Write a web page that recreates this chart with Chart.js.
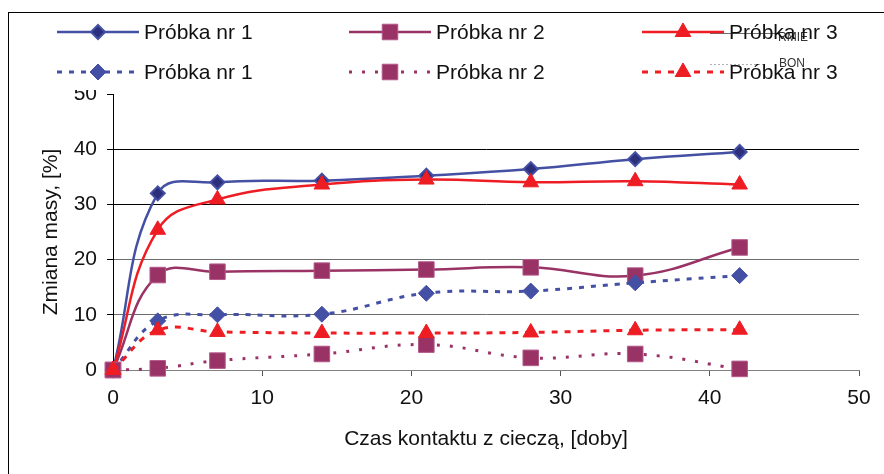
<!DOCTYPE html>
<html>
<head>
<meta charset="utf-8">
<script src="https://cdn.jsdelivr.net/npm/chart.js"></script>
<style>
  html, body { margin: 0; padding: 0; background: #fff; }
  #wrap { width: 884px; height: 474px; }
</style>
</head>
<body>
<div id="wrap"><canvas id="chart" width="884" height="474"></canvas></div>
<script>
// dni kontaktu z ciecza
const days = [0, 3, 7, 14, 21, 28, 35, 42];
const seriesNames = ["Próbka nr 1", "Próbka nr 2", "Próbka nr 3"];

// linie ciagle
const solid1 = [0, 32.0, 34.0, 34.3, 35.2, 36.4, 38.2, 39.5];
const solid2 = [0, 17.2, 17.8, 18.0, 18.2, 18.6, 17.1, 22.2];
const solid3 = [0, 25.4, 30.9, 33.6, 34.5, 34.0, 34.2, 33.6];
// linie kropkowane
const dotted1 = [0, 8.9, 10.0, 10.1, 13.9, 14.3, 15.8, 17.1];
const dotted2 = [0, 0.3, 1.7, 2.9, 4.6, 2.2, 2.9, 0.2];
const dotted3 = [0, 7.2, 6.9, 6.7, 6.7, 6.8, 7.2, 7.3];

const xTicks = [0, 10, 20, 30, 40, 50];
const yTicks = [0, 10, 20, 30, 40, 50];

const BLUE = "#4450a3";
const PURPLE = "#993366";
const RED = "#ee1d24";
const FONT = '"Liberation Sans", Arial, sans-serif';

function pts(values) {
  return days.map((d, i) => ({ x: d, y: values[i] }));
}

const datasets = [
  { label: seriesNames[0], data: pts(solid1), borderColor: BLUE, borderWidth: 2.5, borderDash: [],
    pointStyle: "rectRot", pointRadius: 7, pointBackgroundColor: "#2b2f7c", pointBorderColor: BLUE, pointBorderWidth: 2 },
  { label: seriesNames[1], data: pts(solid2), borderColor: PURPLE, borderWidth: 2.5, borderDash: [],
    pointStyle: "rect", pointRadius: 11, pointBackgroundColor: PURPLE, pointBorderColor: "#b3588a", pointBorderWidth: 1 },
  { label: seriesNames[2], data: pts(solid3), borderColor: RED, borderWidth: 2.5, borderDash: [],
    pointStyle: "triangle", pointRadius: 9, pointBackgroundColor: RED, pointBorderColor: RED, pointBorderWidth: 1 },
  { label: seriesNames[0], data: pts(dotted1), borderColor: BLUE, borderWidth: 3, borderDash: [5, 7],
    pointStyle: "rectRot", pointRadius: 8, pointBackgroundColor: BLUE, pointBorderColor: BLUE, pointBorderWidth: 1 },
  { label: seriesNames[1], data: pts(dotted2), borderColor: PURPLE, borderWidth: 3, borderDash: [3, 10],
    pointStyle: "rect", pointRadius: 11, pointBackgroundColor: PURPLE, pointBorderColor: "#b3588a", pointBorderWidth: 1 },
  { label: seriesNames[2], data: pts(dotted3), borderColor: RED, borderWidth: 3, borderDash: [6, 7],
    pointStyle: "triangle", pointRadius: 9, pointBackgroundColor: RED, pointBorderColor: RED, pointBorderWidth: 1 }
];
datasets.forEach((ds, i) => {
  ds.tension = 0.42;
  ds.fill = false;
  ds.clip = false;
  ds.order = datasets.length - i; // pozniejsze serie na wierzchu, jak w Excelu
});

// legenda w stylu Excela (3 kolumny x 2 wiersze) + ramka
const legendX = [57, 349, 642];
const legendY = [32, 72];

const excelLegend = {
  id: "excelLegend",
  afterDraw(chart) {
    const ctx = chart.ctx;
    ctx.save();
    ctx.fillStyle = "#fff";
    ctx.fillRect(9, 13, 875, 77);

    // resztki innej legendy
    ctx.strokeStyle = "#6e6e6e";
    ctx.lineWidth = 1;
    ctx.beginPath(); ctx.moveTo(710, 33.5); ctx.lineTo(778, 33.5); ctx.stroke();
    ctx.strokeStyle = "#b0b0b0";
    ctx.setLineDash([2, 2]);
    ctx.beginPath(); ctx.moveTo(710, 64.5); ctx.lineTo(766, 64.5); ctx.stroke();
    ctx.setLineDash([]);
    ctx.fillStyle = "#333";
    ctx.font = "12px " + FONT;
    ctx.textBaseline = "middle";
    ctx.fillText("RMIE", 778, 38);
    ctx.fillText("BON", 779, 64);

    chart.data.datasets.forEach((ds, i) => {
      const x0 = legendX[i % 3];
      const y = legendY[Math.floor(i / 3)];
      ctx.beginPath();
      ctx.setLineDash(ds.borderDash);
      ctx.lineWidth = ds.borderWidth;
      ctx.strokeStyle = ds.borderColor;
      ctx.moveTo(x0, y);
      ctx.lineTo(x0 + 82, y);
      ctx.stroke();
      ctx.setLineDash([]);

      ctx.fillStyle = ds.pointBackgroundColor;
      ctx.strokeStyle = ds.pointBorderColor;
      ctx.lineWidth = ds.pointBorderWidth;
      Chart.helpers.drawPoint(ctx, {
        pointStyle: ds.pointStyle, radius: ds.pointRadius, rotation: 0, borderWidth: ds.pointBorderWidth
      }, x0 + 41, y);

      ctx.fillStyle = "#111";
      ctx.font = "21px " + FONT;
      ctx.textBaseline = "middle";
      ctx.fillText(ds.label, x0 + 87, y + 1);
    });

    ctx.strokeStyle = "#000";
    ctx.lineWidth = 1;
    ctx.strokeRect(8.5, 12.5, 1000, 1000);
    ctx.restore();
  }
};

const whiteBg = {
  id: "whiteBg",
  beforeDraw(chart) {
    const ctx = chart.ctx;
    ctx.save();
    ctx.fillStyle = "#fff";
    ctx.fillRect(0, 0, chart.width, chart.height);
    ctx.restore();
  }
};

Chart.defaults.font.family = FONT;
Chart.defaults.font.size = 21;
Chart.defaults.color = "#111";

new Chart(document.getElementById("chart").getContext("2d"), {
  type: "line",
  data: { datasets: datasets },
  options: {
    responsive: false,
    animation: false,
    devicePixelRatio: 1,
    layout: { padding: { top: 94, right: 25, left: 0, bottom: 0 } },
    plugins: { legend: { display: false }, tooltip: { enabled: false } },
    scales: {
      x: {
        type: "linear",
        min: 0,
        max: 50,
        afterBuildTicks: s => { s.ticks = xTicks.map(v => ({ value: v })); },
        afterFit: s => { s.height = 104; },
        ticks: { padding: 10, color: "#111", font: { size: 21 } },
        grid: { drawOnChartArea: false, drawTicks: true, tickLength: 6, color: "#555", tickColor: "#555" },
        border: { color: "#808080", width: 1 },
        title: { display: true, text: "Czas kontaktu z cieczą, [doby]", color: "#111",
                 font: { size: 21 }, padding: { top: 0, bottom: 22 } }
      },
      y: {
        type: "linear",
        min: 0,
        max: 50,
        afterBuildTicks: s => { s.ticks = yTicks.map(v => ({ value: v })); },
        afterFit: s => { s.width = 113; },
        ticks: { padding: 10, color: "#111", font: { size: 21 } },
        grid: {
          drawTicks: true,
          tickLength: 6,
          tickColor: "#000",
          color: c => {
            const v = c.tick ? c.tick.value : 0;
            if (v === 50) return "rgba(0,0,0,0)";
            return v >= 30 ? "#000" : "#6d6d6d";
          }
        },
        border: { color: "#000", width: 1 },
        title: { display: true, text: "Zmiana masy, [%]", color: "#111",
                 font: { size: 21 }, padding: { top: 39, bottom: 0 } }
      }
    }
  },
  plugins: [whiteBg, excelLegend]
});
</script>
</body>
</html>
